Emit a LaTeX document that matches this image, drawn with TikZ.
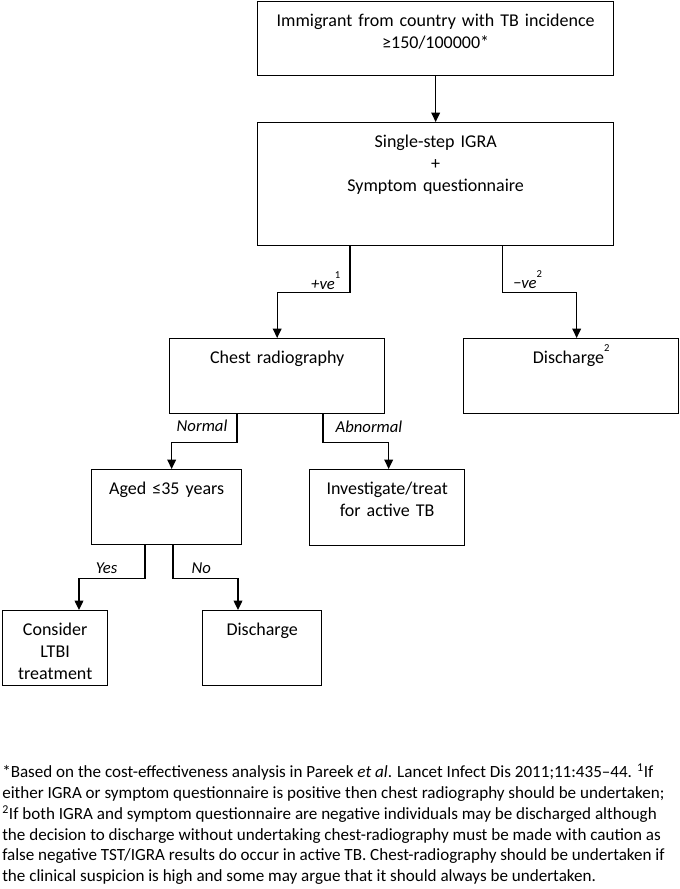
\documentclass[tikz,border=0pt]{standalone}
\usepackage{fontspec}
\setmainfont{Carlito}
\usetikzlibrary{arrows.meta, positioning, calc}

\newcommand{\supnum}[2]{\raisebox{#1}{\fontsize{8}{8}\selectfont\upshape #2}}

\tikzset{
  flowbox/.style={draw, line width=1pt, anchor=north west, align=center, inner xsep=0pt, inner ysep=9pt, text height=9.75pt, font=\fontsize{13.5}{16.5}\selectfont},
  flowarrow/.style={line width=1pt, -{Triangle[width=6.5pt, length=7pt]}},
  branchlbl/.style={font=\fontsize{12.5}{15}\selectfont\itshape, inner sep=0pt},
}

\begin{document}
\begin{tikzpicture}[x=0.75pt, y=-0.75pt]
  \useasboundingbox (0,0) rectangle (679,889);

  % Boxes
  \node[flowbox, text width=267pt, text depth=27.75pt] (immig) at (257,1) {Immigrant from country with TB incidence\\≥150/100000*};
  \node[flowbox, text width=267pt, text depth=64.5pt] (igra) at (257,122) {Single-step IGRA\\+\\Symptom questionnaire};
  \node[flowbox, text width=161.25pt, text depth=28.5pt] (chest) at (169,338) {Chest radiography};
  \node[flowbox, text width=161.25pt, text depth=28.5pt] (dischneg) at (463,338) {Discharge\supnum{9pt}{2}};
  \node[flowbox, text width=112.5pt, text depth=28.5pt] (aged) at (91,469) {Aged ≤35 years};
  \node[flowbox, text width=116.25pt, text depth=29.25pt] (invest) at (309,469) {Investigate/treat\\for active TB};
  \node[flowbox, text width=78.75pt, text depth=28.5pt] (ltbi) at (2,610) {Consider\\LTBI\\treatment};
  \node[flowbox, text width=89.25pt, text depth=28.5pt] (dischpos) at (202,610) {Discharge};

  % Connectors
  \draw[flowarrow] (immig) -- (igra);
  \draw[flowarrow] ($(igra.south west)+(93,0)$) -- ++(0,46)
    node[branchlbl, anchor=base east, xshift=-6.75pt, yshift=2.25pt] {+ve\supnum{8pt}{1}}
    -| (chest.north);
  \draw[flowarrow] ($(igra.south east)+(-112,0)$) -- ++(0,46)
    node[branchlbl, anchor=base west, xshift=7.5pt, yshift=3pt] {−ve\supnum{8pt}{2}}
    -| ($(dischneg.north)+(5.5,0)$);
  \draw[flowarrow] ($(chest.south west)+(68,0)$) -- ++(0,28)
    node[branchlbl, anchor=base east, xshift=-6.75pt, yshift=8.25pt] {Normal}
    -| ($(aged.north)+(5,0)$);
  \draw[flowarrow] ($(chest.south west)+(154,0)$) -- ++(0,28)
    node[branchlbl, anchor=base west, xshift=9pt, yshift=7.5pt] {Abnormal}
    -| ($(invest.north)+(1.5,0)$);
  \draw[flowarrow] ($(aged.south west)+(54,0)$) -- ++(0,33)
    node[branchlbl, anchor=base east, xshift=-20.25pt, yshift=3.75pt] {Yes}
    -| ($(ltbi.north west)+(77,0)$);
  \draw[flowarrow] ($(aged.south west)+(82,0)$) -- ++(0,33)
    node[branchlbl, anchor=base west, xshift=13.5pt, yshift=3.75pt] {No}
    -| ($(dischpos.north west)+(36,0)$);

  % Footnotes
  \node[anchor=north west, align=left, inner sep=0pt, font=\fontsize{12.8}{15.6}\selectfont] (notes) at (2,764) {*Based on the cost-effectiveness analysis in Pareek \textit{et al}. Lancet Infect Dis 2011;11:435–44. \textsuperscript{1}If\\
either IGRA or symptom questionnaire is positive then chest radiography should be undertaken;\\
\textsuperscript{2}If both IGRA and symptom questionnaire are negative individuals may be discharged although\\
the decision to discharge without undertaking chest-radiography must be made with caution as\\
false negative TST/IGRA results do occur in active TB. Chest-radiography should be undertaken if\\
the clinical suspicion is high and some may argue that it should always be undertaken.};
\end{tikzpicture}
\end{document}
